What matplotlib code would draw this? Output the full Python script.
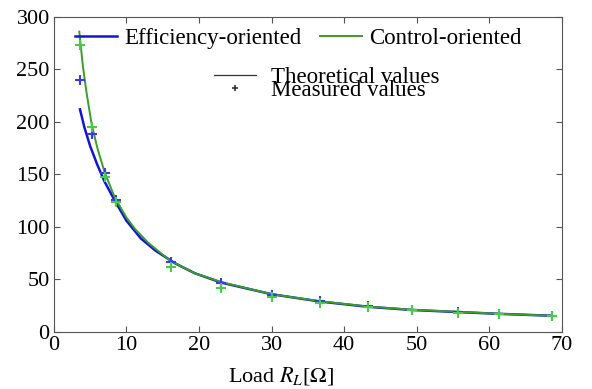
import matplotlib
matplotlib.use('Agg')
import matplotlib.pyplot as plt

plt.rcParams['font.family'] = 'Liberation Serif'
plt.rcParams['mathtext.fontset'] = 'stix'

# Theoretical curves
eff_x = [3.6, 4.2, 5.0, 6.0, 7.0, 8.4, 10.0, 12.0, 14.0, 16.7, 19.4, 23.1, 30.0, 36.7, 43.3, 49.3, 55.7, 61.3, 68.6]
eff_y = [212, 195, 177, 159, 143, 125, 106, 89, 77.5, 65.4, 56, 47, 36, 29, 24, 21, 19, 17.3, 15.5]
ctl_x = [3.5, 4.0, 4.5, 5.2, 6.0, 7.0, 8.4, 10.0, 11.2, 13.0, 16.0, 19.4, 23.1, 30.0, 36.7, 43.3, 49.3, 55.7, 61.3, 68.6]
ctl_y = [286, 253, 228, 198, 175, 152, 128, 109, 98, 85, 68, 56, 47.5, 36, 29.3, 24.3, 21.2, 19.2, 17.4, 15.5]

# Measured values
meas_x = [3.6, 5.3, 7.0, 8.6, 16.2, 23.1, 30.1, 36.7, 43.3, 49.3, 55.7, 61.3, 68.6]
eff_meas = [240, 189, 151, 126, 67, 47, 35, 29.5, 24.5, 21, 19, 17.5, 15.5]
ctl_meas = [273, 195, 148, 124, 62, 42, 33, 28, 23.5, 20.5, 18.5, 17, 15]

fig = plt.figure(figsize=(5.92, 3.89), dpi=100)
ax = fig.add_axes([0.091, 0.1465, 0.858, 0.81])

l1, = ax.plot(eff_x, eff_y, color='#1515d0', lw=1.8, label='Efficiency-oriented')
l2, = ax.plot(ctl_x, ctl_y, color='#3a9e2a', lw=1.4, label='Control-oriented')
ax.plot(meas_x, eff_meas, '+', color='#3a3aee', ms=7, mew=1.5)
ax.plot(meas_x, ctl_meas, '+', color='#4cc84c', ms=7, mew=1.5)

ax.set_xlim(0, 70)
ax.set_ylim(0, 300)
ax.set_xticks(range(0, 71, 10))
ax.set_yticks(range(0, 301, 50))
ax.tick_params(direction='in', top=True, right=True, labelsize=16, length=4,
               color='#555555', pad=3)
for s in ax.spines.values():
    s.set_color('#555555')
ax.set_xlabel(r'Load $R_L$[$\Omega$]', fontsize=16)
ax.xaxis.set_label_coords(0.447, -0.105)

leg1 = ax.legend(handles=[l1, l2], loc='upper left', bbox_to_anchor=(0.041, 0.965), ncol=2,
                 frameon=False, fontsize=16.5, handlelength=1.85, columnspacing=0.8,
                 handletextpad=0.3, borderpad=0, borderaxespad=0)
ax.add_artist(leg1)

th, = ax.plot([], [], color='#333333', lw=0.9, label='Theoretical values')
ms, = ax.plot([], [], '+', color='#333333', ms=4, mew=1.2, label='Measured values')
ax.legend(handles=[th, ms], loc='upper left', bbox_to_anchor=(0.315, 0.84), frameon=False,
          fontsize=16.5, labelspacing=-0.35, handlelength=1.85, handletextpad=0.65,
          borderpad=0, borderaxespad=0)

fig.savefig('out.png', dpi=100)
